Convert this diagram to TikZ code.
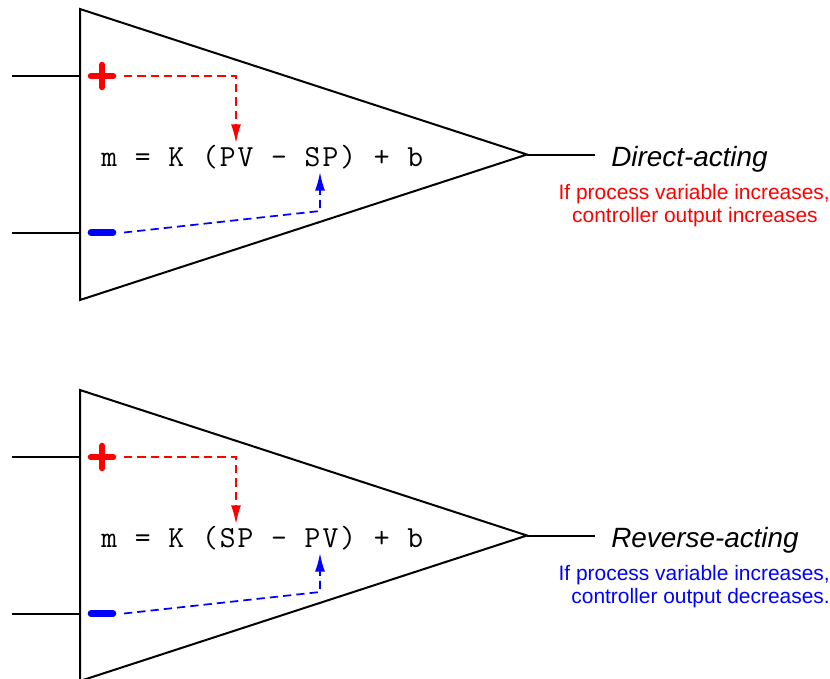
\documentclass[tikz,border=0pt]{standalone}
\usepackage{fontspec}
\setmainfont{Liberation Sans}
\newfontfamily\monoface[LetterSpace=6.5]{Latin Modern Mono}
\usetikzlibrary{arrows.meta}
\definecolor{pure red}{RGB}{255,0,0}
\definecolor{pure blue}{RGB}{0,0,255}
\tikzset{
  wire/.style={draw=black,line width=1.5bp,line join=miter},
  sign/.style={line width=4.6bp,line cap=round},
  flow/.style={line width=1.3bp,dash pattern=on 6.2bp off 3.8bp,-{Latex[length=14bp,width=7.5bp]}},
  formula/.style={inner sep=0pt,anchor=base west,font=\monoface\fontsize{23bp}{26bp}\selectfont},
  mode/.style={inner sep=0pt,anchor=base west,font=\itshape\fontsize{20.9bp}{24bp}\selectfont},
  note/.style={inner sep=0pt,anchor=base east,font=\fontsize{15.7bp}{17bp}\selectfont},
}
\begin{document}
\begin{tikzpicture}[x=0.75bp,y=-0.75bp]
\useasboundingbox (0,0) rectangle (830,679);
\clip (0,0) rectangle (830,679);
% --- direct-acting
\coordinate (a1) at (80,9); \coordinate (a2) at (80,300); \coordinate (atip) at (527,154.5);
\coordinate (ain1) at (12,75.5); \coordinate (ain1e) at (80,75.5);
\coordinate (ain2) at (12,232.5); \coordinate (ain2e) at (80,232.5);
\coordinate (aout) at (595,154.5);
\coordinate (aps) at (102,76); \coordinate (ams) at (102,232.5);
\coordinate (apf) at (124,76); \coordinate (apc) at (236,76); \coordinate (apt) at (236,143);
\coordinate (amf) at (124,232.5); \coordinate (amc) at (320,211); \coordinate (amt) at (320,172);
\draw[wire] (a1) -- (atip) -- (a2) -- cycle;
\draw[wire] (ain1) -- (ain1e);
\draw[wire] (ain2) -- (ain2e);
\draw[wire] (atip) -- (aout);
\draw[sign,pure red] ([xshift=-8.4bp]aps) -- ([xshift=8.4bp]aps);
\draw[sign,pure red] ([yshift=8.4bp]aps) -- ([yshift=-8.4bp]aps);
\draw[sign,pure blue] ([xshift=-8.4bp]ams) -- ([xshift=8.4bp]ams);
\draw[flow,pure red] (apf) -- (apc) -- (apt);
\draw[flow,pure blue] (amf) -- (amc) -- (amt);
\node[formula] (aeq) at (101,166.5) {m = K (PV – SP) + b};
\node[mode] (amode) at (611,166) {Direct-acting};
\node[note,pure red] (an1) at (830,199) {If process variable increases,};
\node[note,pure red] (an2) at (818,222) {controller output increases};
% --- reverse-acting
\coordinate (b1) at (80,390); \coordinate (b2) at (80,681); \coordinate (btip) at (527,535.5);
\coordinate (bin1) at (12,456.5); \coordinate (bin1e) at (80,456.5);
\coordinate (bin2) at (12,613.5); \coordinate (bin2e) at (80,613.5);
\coordinate (bout) at (595,535.5);
\coordinate (bps) at (102,457); \coordinate (bms) at (102,613.5);
\coordinate (bpf) at (124,457); \coordinate (bpc) at (236,457); \coordinate (bpt) at (236,524);
\coordinate (bmf) at (124,613.5); \coordinate (bmc) at (320,592); \coordinate (bmt) at (320,553);
\draw[wire] (b1) -- (btip) -- (b2) -- cycle;
\draw[wire] (bin1) -- (bin1e);
\draw[wire] (bin2) -- (bin2e);
\draw[wire] (btip) -- (bout);
\draw[sign,pure red] ([xshift=-8.4bp]bps) -- ([xshift=8.4bp]bps);
\draw[sign,pure red] ([yshift=8.4bp]bps) -- ([yshift=-8.4bp]bps);
\draw[sign,pure blue] ([xshift=-8.4bp]bms) -- ([xshift=8.4bp]bms);
\draw[flow,pure red] (bpf) -- (bpc) -- (bpt);
\draw[flow,pure blue] (bmf) -- (bmc) -- (bmt);
\node[formula] (beq) at (101,547.5) {m = K (SP – PV) + b};
\node[mode] (bmode) at (611,547) {Reverse-acting};
\node[note,pure blue] (bn1) at (830,580) {If process variable increases,};
\node[note,pure blue] (bn2) at (830,603) {controller output decreases.};
\end{tikzpicture}
\end{document}
